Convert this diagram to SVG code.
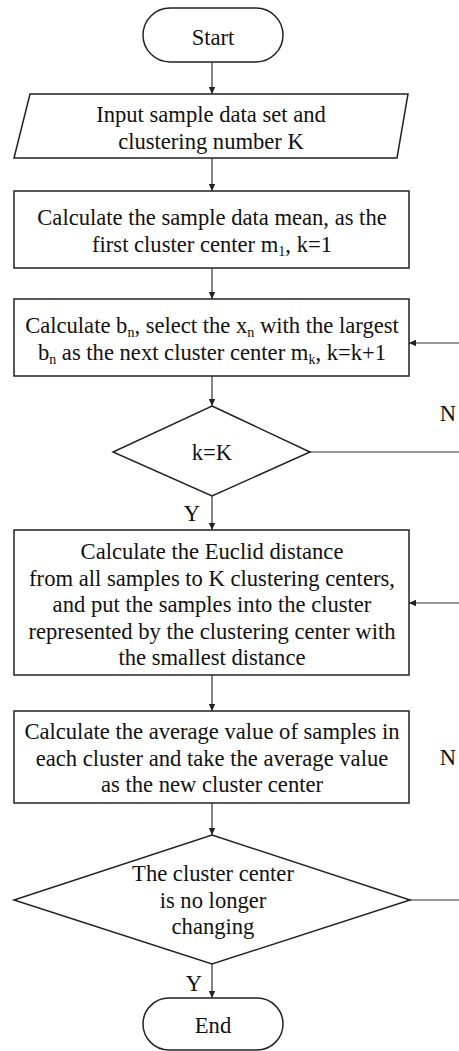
<svg xmlns="http://www.w3.org/2000/svg" width="459" height="1051" viewBox="0 0 459 1051">
<style>
.s{fill:#fff;stroke:#222;stroke-width:1.5}
.c{fill:none;stroke:#333;stroke-width:1.2}
text{font-family:'Liberation Serif','Times New Roman',serif;font-size:22.6px;fill:#111;text-anchor:middle}
.sb{font-size:14px}
</style>
<defs>
<marker id="a" markerWidth="8" markerHeight="8" refX="7" refY="4" orient="auto" markerUnits="userSpaceOnUse">
<path d="M0,0.8 L7,4 L0,7.2 Z" fill="#222"/>
</marker>
</defs>
<rect width="459" height="1051" fill="#fff"/>
<g id="connectors">
<line class="c" x1="212" y1="62" x2="212" y2="94" marker-end="url(#a)"/>
<line class="c" x1="212" y1="158" x2="212" y2="191" marker-end="url(#a)"/>
<line class="c" x1="212" y1="268" x2="212" y2="299" marker-end="url(#a)"/>
<line class="c" x1="212" y1="376" x2="212" y2="406" marker-end="url(#a)"/>
<line class="c" x1="212" y1="496" x2="212" y2="530" marker-end="url(#a)"/>
<line class="c" x1="212" y1="675" x2="212" y2="711" marker-end="url(#a)"/>
<line class="c" x1="212" y1="803" x2="212" y2="835" marker-end="url(#a)"/>
<line class="c" x1="212" y1="964" x2="212" y2="998" marker-end="url(#a)"/>
<line class="c" x1="310" y1="452" x2="459" y2="452"/>
<line class="c" x1="459" y1="343" x2="409" y2="343" marker-end="url(#a)"/>
<line class="c" x1="410" y1="900" x2="459" y2="900"/>
<line class="c" x1="459" y1="603" x2="409" y2="603" marker-end="url(#a)"/>
<text x="448" y="421">N</text>
<text x="448" y="765">N</text>
<text x="192" y="521">Y</text>
<text x="194" y="991">Y</text>
</g>
<g id="start">
<rect class="s" x="143" y="8" width="140" height="54" rx="27"/>
<text x="213" y="45">Start</text>
</g>
<g id="input">
<polygon class="s" points="30,94 408,94 397,158 14,158"/>
<text x="211" y="122">Input sample data set and</text>
<text x="211" y="149">clustering number K</text>
</g>
<g id="mean">
<rect class="s" x="14" y="191" width="395" height="77"/>
<text x="212" y="225">Calculate the sample data mean, as the</text>
<text x="212" y="252">first cluster center m<tspan class="sb" dy="4">1</tspan><tspan dy="-4">, k=1</tspan></text>
</g>
<g id="select">
<rect class="s" x="14" y="299" width="395" height="77"/>
<text x="212" y="333">Calculate b<tspan class="sb" dy="4">n</tspan><tspan dy="-4">, select the x</tspan><tspan class="sb" dy="4">n</tspan><tspan dy="-4"> with the largest</tspan></text>
<text x="212" y="360">b<tspan class="sb" dy="4">n</tspan><tspan dy="-4"> as the next cluster center m</tspan><tspan class="sb" dy="4">k</tspan><tspan dy="-4">, k=k+1</tspan></text>
</g>
<g id="check-k">
<polygon class="s" points="212,406 310,452 212,496 113,452"/>
<text x="212" y="460">k=K</text>
</g>
<g id="assign">
<rect class="s" x="14" y="530" width="395" height="145"/>
<text x="212" y="559">Calculate the Euclid distance</text>
<text x="212" y="586">from all samples to K clustering centers,</text>
<text x="212" y="612">and put the samples into the cluster</text>
<text x="212" y="639">represented by the clustering center with</text>
<text x="212" y="665">the smallest distance</text>
</g>
<g id="update">
<rect class="s" x="14" y="711" width="395" height="92"/>
<text x="212" y="739">Calculate the average value of samples in</text>
<text x="212" y="766">each cluster and take the average value</text>
<text x="212" y="792">as the new cluster center</text>
</g>
<g id="converged">
<polygon class="s" points="212,835 410,900 212,964 14,900"/>
<text x="213" y="881">The cluster center</text>
<text x="213" y="908">is no longer</text>
<text x="213" y="934">changing</text>
</g>
<g id="end">
<rect class="s" x="143" y="998" width="140" height="52" rx="26"/>
<text x="213" y="1033">End</text>
</g>
</svg>
